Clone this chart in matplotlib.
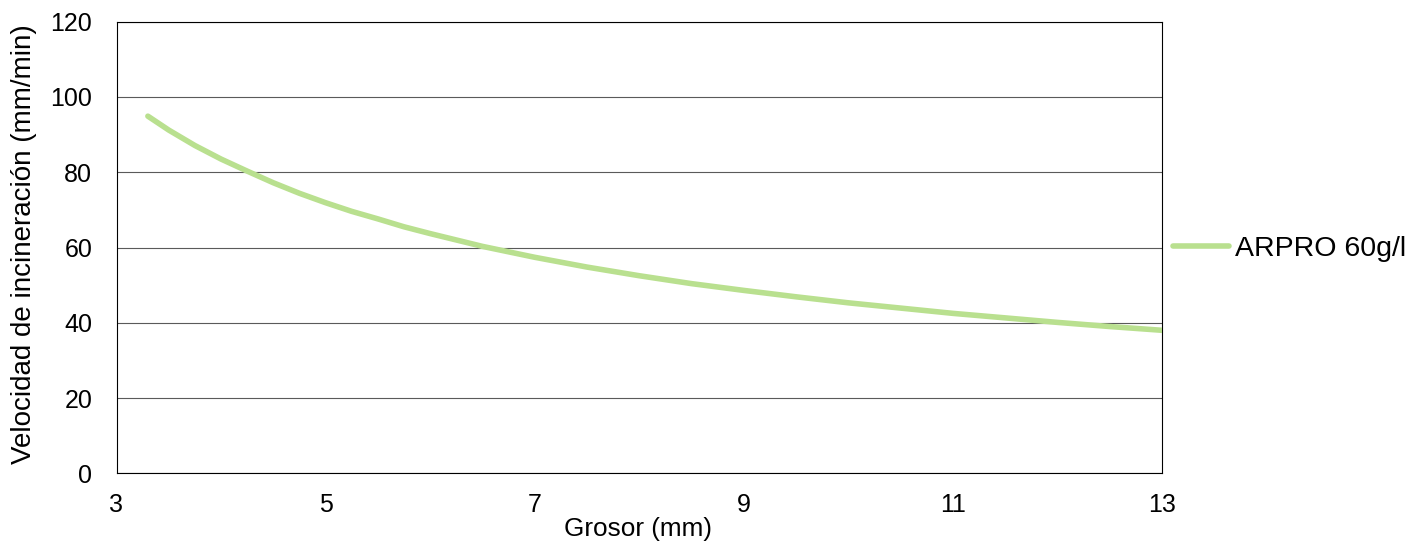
import matplotlib
matplotlib.use("Agg")
import matplotlib.pyplot as plt

plt.rcParams['font.family'] = ['Liberation Sans', 'DejaVu Sans']

grosor = [3.3, 3.5, 3.75, 4.0, 4.25, 4.5, 4.75, 5.0, 5.25, 5.5, 5.75, 6.0,
          6.5, 7.0, 7.5, 8.0, 8.5, 9.0, 9.5, 10.0, 10.5, 11.0, 11.5, 12.0,
          12.5, 13.0]
velocidad = [94.9, 91.2, 87.1, 83.5, 80.3, 77.2, 74.4, 71.9, 69.6, 67.6, 65.5,
             63.7, 60.3, 57.4, 54.8, 52.5, 50.4, 48.6, 46.9, 45.3, 43.9, 42.5,
             41.3, 40.1, 39.0, 38.0]
series_name = "ARPRO 60g/l"
x_ticks = [3, 5, 7, 9, 11, 13]
y_ticks = [0, 20, 40, 60, 80, 100, 120]

W, H = 1411, 544
fig = plt.figure(figsize=(W / 100, H / 100), dpi=100)
left, right, top, bottom = 116.5, 1162, 21.7, 473.3
ax = fig.add_axes([left / W, 1 - bottom / H, (right - left) / W, (bottom - top) / H])

ax.plot(grosor, velocidad, color='#B9E08F', lw=4.0, solid_capstyle='round',
        solid_joinstyle='round', label=series_name, zorder=3)

ax.set_xlim(3, 13)
ax.set_ylim(0, 120)
ax.set_xticks(x_ticks)
ax.set_yticks(y_ticks)
ax.tick_params(axis='both', length=0, labelsize=18)
ax.tick_params(axis='x', pad=14.5)
ax.tick_params(axis='y', pad=17.5)
ax.grid(axis='y', color='#5a5a5a', lw=0.8, zorder=1)
ax.set_axisbelow(True)
for s in ax.spines.values():
    s.set_color('black')
    s.set_linewidth(0.8)

ax.set_xlabel("Grosor (mm)", fontsize=18.8)
ax.xaxis.set_label_coords((637.5 - left) / (right - left), (bottom - 517) / (bottom - top))
ax.set_ylabel("Velocidad de incineración (mm/min)", fontsize=20)
ax.yaxis.set_label_coords((37 - left) / (right - left), (bottom - 244) / (bottom - top))

ax.legend(loc='center left', bbox_to_anchor=(1173 / W, 1 - 249 / H),
          bbox_transform=fig.transFigure, frameon=False, fontsize=20.5,
          handlelength=1.97, handletextpad=0.2, borderpad=0, borderaxespad=0)

fig.savefig("out.png", dpi=100)
